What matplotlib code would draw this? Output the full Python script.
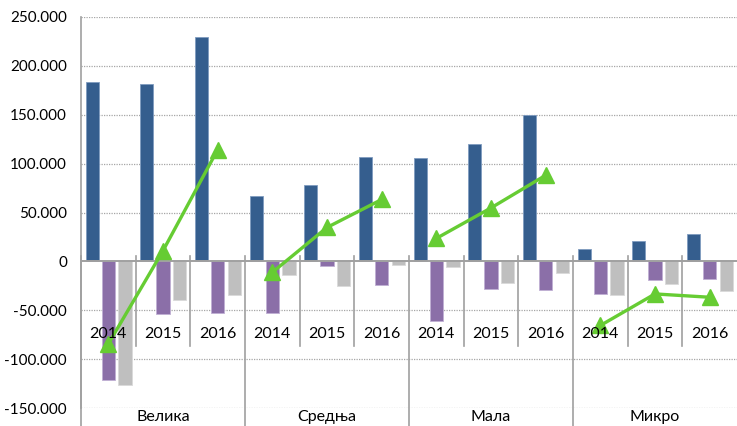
import matplotlib.pyplot as plt
import numpy as np

groups = ['Велика', 'Средња', 'Мала', 'Микро']
years = ['2014', '2015', '2016']

# values per category (group x year)
blue = [184000, 181000, 230000, 66600, 77900, 106800,
        106100, 120100, 149700, 12200, 20700, 28200]
purple = [-121700, -53700, -52400, -53000, -4400, -23800,
          -60900, -28200, -29200, -33700, -19000, -17700]
grey = [-126500, -39400, -34300, -13600, -25500, -3700,
        -5400, -22400, -11900, -34300, -23500, -30600]
green = [-84400, 10900, 114300, -11200, 34700, 63300,
         23500, 54700, 88100, -65600, -33300, -36700]

plt.rcParams['font.family'] = ['Lato', 'DejaVu Sans']

fig = plt.figure(figsize=(7.37, 4.26), dpi=100)
ax = fig.add_axes([81/737, 18/426, 656/737, 391/426])

n = len(blue)
x = np.arange(n) + 0.5
w = 0.24
ax.bar(x - 0.295, blue, w, color='#355E8E', edgecolor='#7F9CC0', linewidth=0.6, zorder=3)
ax.bar(x, purple, w, color='#8B6FA8', edgecolor='#C0B0D4', linewidth=0.6, zorder=3)
ax.bar(x + 0.305, grey, w, color='#BFBFBF', edgecolor='#DADADA', linewidth=0.6, zorder=3)

for g in range(len(groups)):
    s = slice(g*3, g*3 + 3)
    ax.plot(x[s], green[s], color='#66CC33', lw=2.4, marker='^', markersize=11,
            zorder=5, clip_on=False)

ax.set_xlim(0, n)
ax.set_ylim(-150000, 250000)
yt = np.arange(-150000, 250001, 50000)
ax.set_yticks(yt)
ax.set_yticklabels(['{:,}'.format(v).replace(',', '.') for v in yt], fontsize=11)
ax.tick_params(axis='y', length=0, pad=10)
ax.set_xticks([])

for v in yt:
    if v != 0:
        ax.axhline(v, color='#A6A6A6', lw=0.9, ls=(0, (1, 1)), zorder=1)
ax.axhline(0, color='#A0A0A0', lw=1.4, zorder=4)

for s in ['top', 'right', 'bottom']:
    ax.spines[s].set_visible(False)
ax.spines['left'].set_color('#A0A0A0')
ax.spines['left'].set_linewidth(1.2)

# year labels and separators
for i in range(n):
    ax.text(x[i], -74500, years[i % 3], ha='center', va='center', fontsize=11.5, zorder=6)
for i in range(1, n):
    if i % 3:
        ax.plot([i, i], [6000, -87000], color='#A0A0A0', lw=1.2, zorder=4)

# group labels and separators
for g in range(len(groups)):
    ax.plot([g*3, g*3], [6000, -172000], color='#A0A0A0', lw=1.2, zorder=4, clip_on=False)
    ax.text(g*3 + 1.5, -159500, groups[g], ha='center', va='center', fontsize=11.5,
            clip_on=False)

fig.savefig('out.png', dpi=100)
